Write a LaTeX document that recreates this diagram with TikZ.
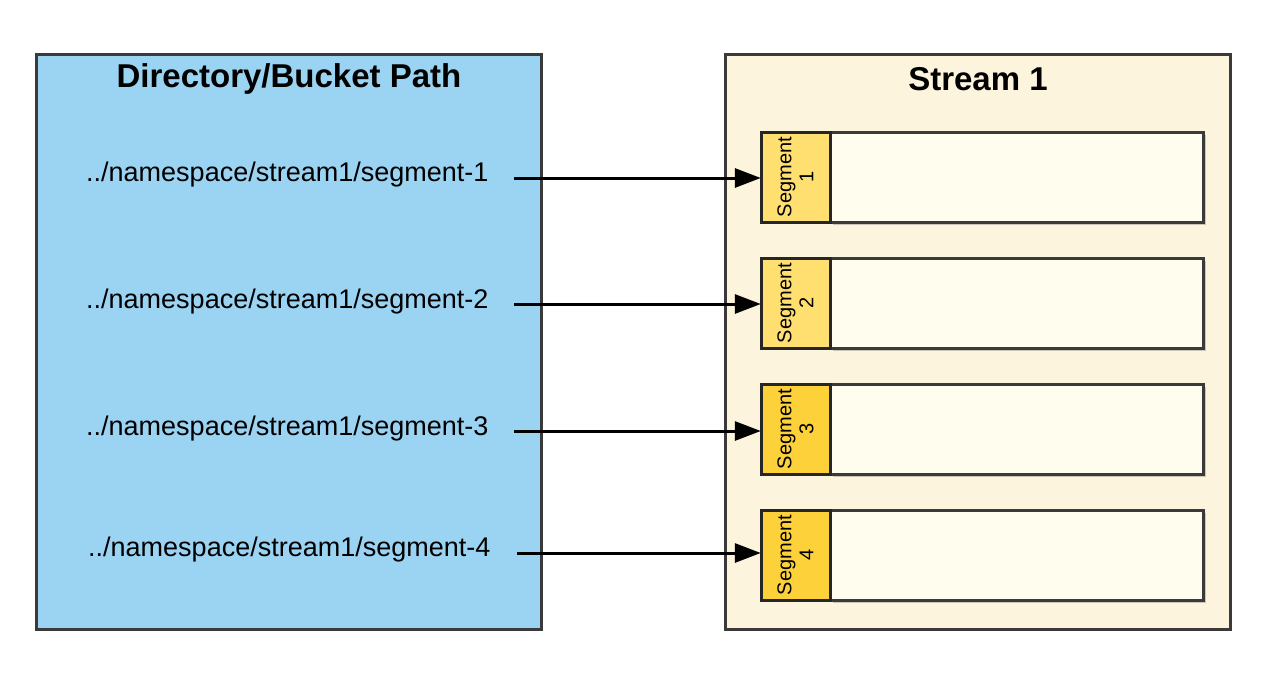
\documentclass[tikz,border=0pt]{standalone}
\usepackage{fontspec}
\setmainfont{Liberation Sans}
\usetikzlibrary{arrows.meta,shadows}
\definecolor{dirblue}{HTML}{9BD3F2}
\definecolor{streamcream}{HTML}{FDF4DE}
\definecolor{seglight}{HTML}{FEDF70}
\definecolor{segdark}{HTML}{FDD13A}
\definecolor{recfill}{HTML}{FFFEEE}
\definecolor{edge}{HTML}{3A3A3A}
\tikzset{
  outer/.style={draw=edge, line width=3pt, drop shadow={shadow xshift=2pt, shadow yshift=-2pt, opacity=0.3}},
  segbox/.style={draw=black!85, line width=3pt},
  recbox/.style={draw=edge, line width=3pt, fill=recfill, drop shadow={shadow xshift=3pt, shadow yshift=-3pt, opacity=0.4}},
  title/.style={font=\fontsize{33}{38}\selectfont\bfseries},
  pathtxt/.style={font=\fontsize{27}{31}\selectfont, anchor=west, inner sep=0pt},
  segtxt/.style={font=\fontsize{20}{22}\selectfont, align=center, rotate=90},
  conn/.style={line width=3pt, -{Triangle[length=26pt,width=19pt]}}
}
\begin{document}
\begin{tikzpicture}[x=1pt,y=-1pt]
\useasboundingbox (0,0) rectangle (1285,681);
% outer boxes
\draw[outer, fill=dirblue] (36,54) rectangle (541,629);
\draw[outer, fill=streamcream] (725,54) rectangle (1230,629);
\node[title] (dirtitle) at (289,79) {Directory/Bucket Path};
\node[title] (streamtitle) at (978,79) {Stream 1};
% paths
\node[pathtxt] (p1) at (86,175) {../namespace/stream1/segment-1};
\node[pathtxt] (p2) at (86,302) {../namespace/stream1/segment-2};
\node[pathtxt] (p3) at (86,429) {../namespace/stream1/segment-3};
\node[pathtxt] (p4) at (88,550) {../namespace/stream1/segment-4};
% records
\draw[recbox] (830,132) rectangle (1203,222);
\draw[recbox] (830,258) rectangle (1203,348);
\draw[recbox] (830,384) rectangle (1203,474);
\draw[recbox] (830,510) rectangle (1203,600);
% segments
\draw[segbox, fill=seglight] (761,132) rectangle (830,222);
\draw[segbox, fill=seglight] (761,258) rectangle (830,348);
\draw[segbox, fill=segdark] (761,384) rectangle (830,474);
\draw[segbox, fill=segdark] (761,510) rectangle (830,600);
\node[segtxt, minimum width=90pt, minimum height=69pt, inner sep=0pt] (s1) at (795.5,177) {Segment\\1};
\node[segtxt, minimum width=90pt, minimum height=69pt, inner sep=0pt] (s2) at (795.5,303) {Segment\\2};
\node[segtxt, minimum width=90pt, minimum height=69pt, inner sep=0pt] (s3) at (795.5,429) {Segment\\3};
\node[segtxt, minimum width=90pt, minimum height=69pt, inner sep=0pt] (s4) at (795.5,555) {Segment\\4};
% connectors
\coordinate (a1) at (514,178);
\coordinate (a2) at (514,304);
\coordinate (a3) at (514,431);
\coordinate (a4) at (517,553);
\draw[conn] (a1) -- (s1.north |- a1);
\draw[conn] (a2) -- (s2.north |- a2);
\draw[conn] (a3) -- (s3.north |- a3);
\draw[conn] (a4) -- (s4.north |- a4);
\end{tikzpicture}
\end{document}
